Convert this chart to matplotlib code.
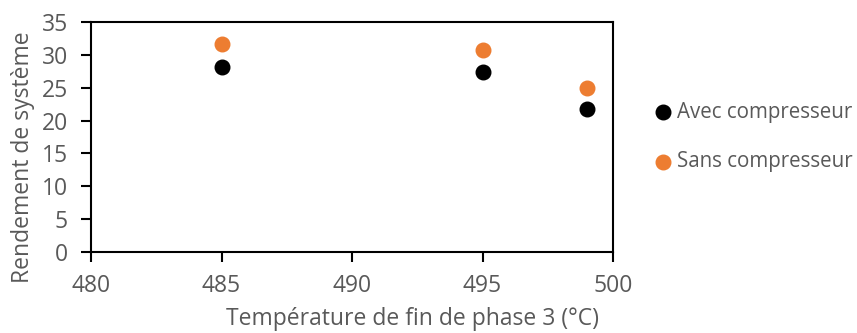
import matplotlib.pyplot as plt

temperature = [485, 495, 499]
avec_compresseur = [28.1, 27.4, 21.7]
sans_compresseur = [31.6, 30.7, 25.0]

plt.rcParams['font.family'] = ['Open Sans', 'DejaVu Sans']
grey = '#595959'

fig = plt.figure(figsize=(8.57, 3.33), dpi=100)
ax = fig.add_axes([91/857, 1 - 252/333, (613 - 91)/857, (252 - 22)/333])

ax.scatter(temperature, avec_compresseur, s=110, color='black', label='Avec compresseur', zorder=3)
ax.scatter(temperature, sans_compresseur, s=110, color='#ED7D31', label='Sans compresseur', zorder=3)

ax.set_xlim(480, 500)
ax.set_ylim(0, 35)
ax.set_xticks([480, 485, 490, 495, 500])
ax.set_yticks(range(0, 36, 5))
ax.tick_params(axis='both', colors='black', labelcolor=grey, labelsize=16.5,
               direction='out', length=7, width=1.5)
ax.tick_params(axis='x', pad=9)
ax.tick_params(axis='y', pad=9.5)
for s in ax.spines.values():
    s.set_linewidth(1.5)
    s.set_color('black')

ax.set_xlabel('Température de fin de phase 3 (°C)', color=grey, fontsize=16.5, va='center')
ax.set_ylabel('Rendement de système', color=grey, fontsize=16.5, va='center')
ax.xaxis.set_label_coords(0.616, -0.29)
ax.yaxis.set_label_coords(-0.13, 0.413)

leg = ax.legend(loc='center left', bbox_to_anchor=(1.077, 0.5), frameon=False,
                fontsize=14.8, borderaxespad=0, borderpad=0, handlelength=1.0,
                handletextpad=0.15, labelspacing=1.4, labelcolor=grey,
                scatterpoints=1)

fig.savefig('out.png', dpi=100)
